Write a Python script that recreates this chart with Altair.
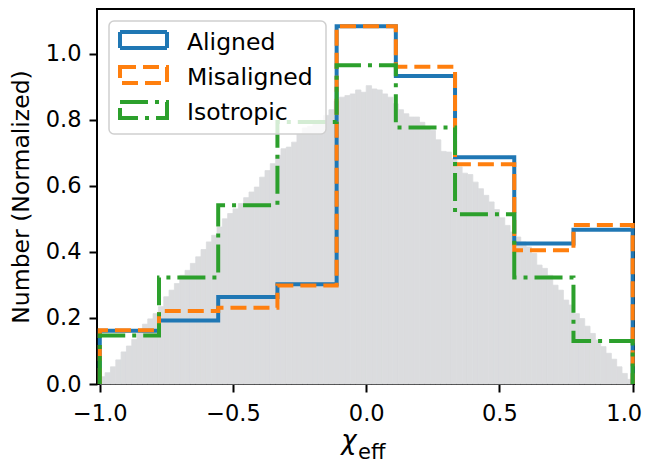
import altair as alt
import pandas as pd
import numpy as np

# ---------------- data ----------------
step_edges = [-1.0, -0.7778, -0.5556, -0.3333, -0.1111, 0.1111, 0.3333, 0.5556, 0.7778, 1.0]
aligned = [0.161, 0.192, 0.263, 0.302, 1.083, 0.932, 0.686, 0.425, 0.467]
misaligned = [0.163, 0.221, 0.231, 0.298, 1.083, 0.960, 0.665, 0.405, 0.481]
isotropic = [0.147, 0.322, 0.541, 0.793, 0.965, 0.776, 0.514, 0.322, 0.130]

# background (population) histogram, 100 bins from -1 to 1
bg_values = [
    0.022, 0.034, 0.052, 0.073, 0.097, 0.115, 0.135, 0.153, 0.181, 0.197,
    0.213, 0.234, 0.264, 0.284, 0.304, 0.329, 0.344, 0.365, 0.385, 0.407,
    0.430, 0.450, 0.475, 0.500, 0.516, 0.530, 0.546, 0.564, 0.581, 0.596,
    0.626, 0.646, 0.667, 0.692, 0.712, 0.717, 0.732, 0.757, 0.775, 0.780,
    0.788, 0.798, 0.813, 0.830, 0.856, 0.868, 0.873, 0.878, 0.890, 0.883,
    0.903, 0.893, 0.890, 0.878, 0.868, 0.848, 0.830, 0.818, 0.808, 0.808,
    0.792, 0.777, 0.767, 0.739, 0.704, 0.702, 0.682, 0.657, 0.638, 0.634,
    0.611, 0.591, 0.571, 0.551, 0.528, 0.503, 0.480, 0.460, 0.445, 0.430,
    0.415, 0.395, 0.360, 0.350, 0.329, 0.299, 0.284, 0.254, 0.239, 0.213,
    0.198, 0.175, 0.153, 0.133, 0.113, 0.093, 0.075, 0.052, 0.032, 0.014,
]
bg_edges = np.linspace(-1.0, 1.0, len(bg_values) + 1)

names = ["Aligned", "Misaligned", "Isotropic"]
colors = ["#1f77b4", "#ff7f0e", "#2ca02c"]
dashes = [[1, 0], [16, 7], [28, 7, 4, 7]]
x_ticks = [-1.0, -0.5, 0.0, 0.5, 1.0]
y_ticks = [0.0, 0.2, 0.4, 0.6, 0.8, 1.0]

FONT = "DejaVu Sans"
W, H = 537, 375
GRAY = "#dbdcde"

bg_df = pd.DataFrame({"x0": bg_edges[:-1], "x1": bg_edges[1:], "y": bg_values})

xscale = alt.Scale(domain=[-1.0105, 1.005], nice=False, zero=False)
yscale = alt.Scale(domain=[0, 1.135], nice=False, zero=True)

xaxis = alt.Axis(values=x_ticks, format=".1f", title=None, grid=False, domain=False,
                 tickSize=8, tickWidth=2, tickColor="black", labelFontSize=22.5,
                 labelFont=FONT, labelColor="black", labelPadding=10,
                 labelFlush=2, labelFlushOffset=9)
yaxis = alt.Axis(values=y_ticks, format=".1f", title="Number (Normalized)", grid=False,
                 domain=False, tickSize=8, tickWidth=2, tickColor="black",
                 labelFontSize=22.5, labelFont=FONT, labelColor="black", labelPadding=8,
                 titleFont=FONT, titleFontSize=23.5, titleFontWeight="normal",
                 titleColor="black", titlePadding=12)

gray = alt.Chart(bg_df).mark_rect(color=GRAY, opacity=1, stroke=GRAY,
                                  strokeWidth=0.8).encode(
    x=alt.X("x0:Q", scale=xscale, axis=xaxis),
    x2="x1:Q",
    y=alt.Y("y:Q", scale=yscale, axis=yaxis),
    y2=alt.datum(0),
)


def step_df(vals):
    xs = [step_edges[0]] + step_edges[:-1] + [step_edges[-1], step_edges[-1]]
    ys = [0.0] + list(vals) + [vals[-1], 0.0]
    return pd.DataFrame({"x": xs, "y": ys, "i": list(range(len(xs)))})


layers = [gray]
for vals, col, dash in zip([aligned, misaligned, isotropic], colors, dashes):
    layers.append(
        alt.Chart(step_df(vals)).mark_line(
            interpolate="step-after", color=col, strokeWidth=4, strokeDash=dash,
            strokeJoin="miter", strokeCap="butt", clip=False
        ).encode(
            x=alt.X("x:Q", scale=xscale, axis=xaxis),
            y=alt.Y("y:Q", scale=yscale, axis=yaxis),
            order="i:Q",
        )
    )

one = pd.DataFrame({"k": [0]})

# legend frame
layers.append(
    alt.Chart(one).mark_rect(cornerRadius=5, fill="white", fillOpacity=0.8,
                             stroke="#cfcfcf", strokeWidth=1.5).encode(
        x=alt.value(12), x2=alt.value(229), y=alt.value(12), y2=alt.value(125)
    )
)
for k, (nm, col, dash) in enumerate(zip(names, colors, dashes)):
    top = 23 + 35 * k
    layers.append(
        alt.Chart(one).mark_rect(fillOpacity=0, stroke=col, strokeWidth=4,
                                 strokeDash=dash, strokeJoin="miter").encode(
            x=alt.value(23), x2=alt.value(70), y=alt.value(top), y2=alt.value(top + 16)
        )
    )
    layers.append(
        alt.Chart(one).mark_text(align="left", baseline="alphabetic", font=FONT,
                                 fontSize=23.5, color="black").encode(
            x=alt.value(90), y=alt.value(40.5 + 35 * k), text=alt.value(nm)
        )
    )

# x-axis title: chi_eff
layers.append(
    alt.Chart(one).mark_text(align="center", baseline="alphabetic", font=FONT,
                             fontSize=26, fontStyle="italic", color="black").encode(
        x=alt.value(252), y=alt.value(440), text=alt.value("χ")
    )
)
layers.append(
    alt.Chart(one).mark_text(align="left", baseline="alphabetic", font=FONT,
                             fontSize=21, color="black").encode(
        x=alt.value(261), y=alt.value(450), text=alt.value("eff")
    )
)

chart = alt.layer(*layers).properties(
    width=W, height=H,
    padding={"left": 89, "top": 1, "right": 10, "bottom": 80},
    autosize=alt.AutoSizeParams(type="none"),
).configure_view(stroke="black", strokeWidth=2).configure_axis(grid=False)

chart.save("out.html", embed_options={"renderer": "svg", "actions": False})
